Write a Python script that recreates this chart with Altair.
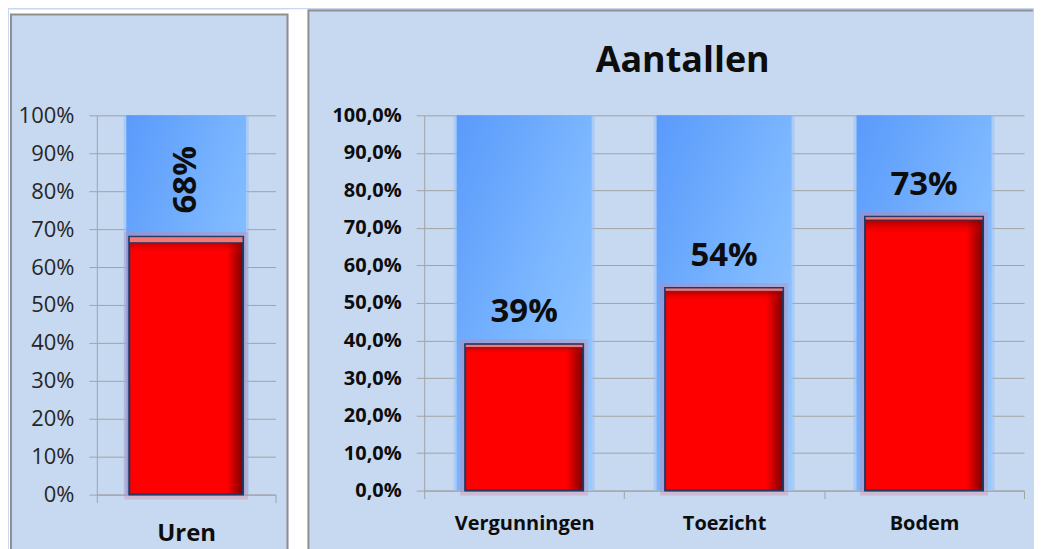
import altair as alt
import pandas as pd

# ---------------- data ----------------
uren_categories = ["Uren"]
uren_values = [0.68]
uren_labels = ["68%"]

aantallen_categories = ["Vergunningen", "Toezicht", "Bodem"]
aantallen_values = [0.39, 0.54, 0.73]
aantallen_labels = ["39%", "54%", "73%"]

y_ticks = [0.0, 0.1, 0.2, 0.3, 0.4, 0.5, 0.6, 0.7, 0.8, 0.9, 1.0]
right_title = ["Aantallen"]

# ---------------- style ----------------
FONT = "Open Sans"
PANEL = "#C6D9F1"
GRID = "#A3A3A3"
BORDER = "#8F8F8F"
NAVY = "#1F3864"
TEXT = "#0D0D0D"


def gstop(c, o):
    return alt.GradientStop(color=c, offset=o)


BLUE = alt.Gradient(gradient="linear", x1=0, y1=0, x2=1, y2=1,
                    stops=[gstop("#5A9AFB", 0), gstop("#7DB8FF", 0.55), gstop("#98CBFF", 1)])
RED = alt.Gradient(gradient="linear", x1=0, y1=0, x2=1, y2=0,
                   stops=[gstop("#FF0000", 0), gstop("#FF0000", 0.86), gstop("#7A0000", 1)])
TOPSHADE = alt.Gradient(gradient="linear", x1=0, y1=0, x2=0, y2=1,
                        stops=[gstop("rgba(110,0,0,0.85)", 0), gstop("rgba(255,0,0,0)", 0.07),
                               gstop("rgba(255,0,0,0)", 1)])

BOTTOM = 450  # lowest decoration edge, relative to the plot top (below the window)


def deco(x, x2, y, y2, **kw):
    return alt.Chart(pd.DataFrame({"k": [0]})).mark_rect(**kw).encode(
        x=alt.value(x), x2=alt.value(x2), y=alt.value(y), y2=alt.value(y2))


def panel(cats, vals, labels, w, h, yaxis, xlab_size, xlab_pad,
          red_frac, blue_frac, strip, rotated, decos):
    df = pd.DataFrame({"cat": cats, "v": vals, "lbl": labels, "full": [1.0] * len(cats)})
    base = alt.Chart(df)
    x = alt.X("cat:N", sort=cats, title=None,
              scale=alt.Scale(paddingInner=0, paddingOuter=0),
              axis=alt.Axis(labelAngle=0, tickBand="extent", tickSize=8, tickColor=GRID,
                            domainColor=GRID, labelFont=FONT, labelFontSize=xlab_size,
                            labelFontWeight="bold", labelColor=TEXT, labelPadding=xlab_pad,
                            grid=False))
    yscale = alt.Scale(domain=[0, 1], nice=False)

    def Y(f):
        return alt.Y(f, type="quantitative", scale=yscale, title=None, axis=yaxis)

    blue_glow = base.mark_bar(width=alt.RelativeBandSize(blue_frac + 0.03), color="#8DBDF7",
                              opacity=0.5).encode(x=x, y=Y("full"), y2=alt.datum(0))
    blue = base.mark_bar(width=alt.RelativeBandSize(blue_frac), color=BLUE).encode(
        x=x, y=Y("full"), y2=alt.datum(0))
    red_glow = base.mark_bar(width=alt.RelativeBandSize(red_frac), fillOpacity=0,
                             stroke="#D48098", strokeWidth=10, strokeOpacity=0.35).encode(
        x=x, y=Y("v"), y2=alt.datum(0))
    red = base.mark_bar(width=alt.RelativeBandSize(red_frac), color=RED).encode(
        x=x, y=Y("v"), y2=alt.datum(0))
    red_shade = base.mark_bar(width=alt.RelativeBandSize(red_frac), color=TOPSHADE,
                              stroke=NAVY, strokeWidth=2).encode(
        x=x, y=Y("v"), y2=alt.datum(0))
    top_strip = base.transform_calculate(vs=f"datum.v - {strip}").mark_bar(
        width=alt.RelativeBandSize(red_frac), color="#F57878", stroke=NAVY, strokeWidth=1
    ).encode(x=x, y=Y("v"), y2="vs:Q")

    if rotated:
        text = base.transform_calculate(mid="datum.v / 2 + 0.49").mark_text(
            angle=270, font=FONT, fontSize=33, fontWeight="bold", color=TEXT,
            align="center", baseline="middle").encode(x=x, y=Y("mid"), text="lbl:N")
    else:
        text = base.mark_text(font=FONT, fontSize=33, fontWeight="bold", color=TEXT,
                              align="center", baseline="middle", dy=-32).encode(
            x=x, y=Y("v"), text="lbl:N")

    layers = decos + [blue_glow, blue, red_glow, red, red_shade, top_strip, text]
    return alt.layer(*layers).properties(width=w, height=h)


left_yaxis = alt.Axis(values=y_ticks, format=".0%", grid=True, gridColor=GRID, tickSize=8,
                      tickColor=GRID, domainColor=GRID, labelFont=FONT, labelFontSize=22,
                      labelColor="#262626", labelPadding=15)
right_yaxis = alt.Axis(values=y_ticks, labelExpr="replace(format(datum.value, '.1%'), '.', ',')",
                       grid=True, gridColor=GRID, tickSize=8, tickColor=GRID, domainColor=GRID,
                       labelFont=FONT, labelFontSize=20, labelFontWeight="bold",
                       labelColor=TEXT, labelPadding=15)

LW, LH = 179, 380
RW, RH = 601, 376

left_decos = [
    deco(-88, 212, -106, -101, color="white"),
    deco(-88, -87, -106, BOTTOM, color="white"),
    deco(192, 212, -106, BOTTOM, color="white"),
    deco(-86, 191, -101, BOTTOM - 2, fillOpacity=0, stroke=BORDER, strokeWidth=2),
]
title_layer = alt.Chart(pd.DataFrame({"t": right_title})).mark_text(
    font=FONT, fontSize=36, fontWeight="bold", color=TEXT, align="center",
    baseline="alphabetic").encode(x=alt.value(259), y=alt.value(-43), text="t:N")
right_decos = [
    deco(-116, 610, -106, -104, color=BORDER),
    deco(-117, -115, -106, BOTTOM, color=BORDER),
    title_layer,
]

left = panel(uren_categories, uren_values, uren_labels, LW, LH, left_yaxis, 24, 19,
             0.637, 0.67, 0.016, True, left_decos)
right = panel(aantallen_categories, aantallen_values, aantallen_labels, RW, RH, right_yaxis,
              20, 15, 0.59, 0.675, 0.009, False, right_decos)

chart = alt.hconcat(left, right, spacing=149, bounds="flush").properties(
    padding=0, background=PANEL
).configure_view(stroke="transparent")

chart.save("out.html", embed_options={"renderer": "svg", "actions": False})
